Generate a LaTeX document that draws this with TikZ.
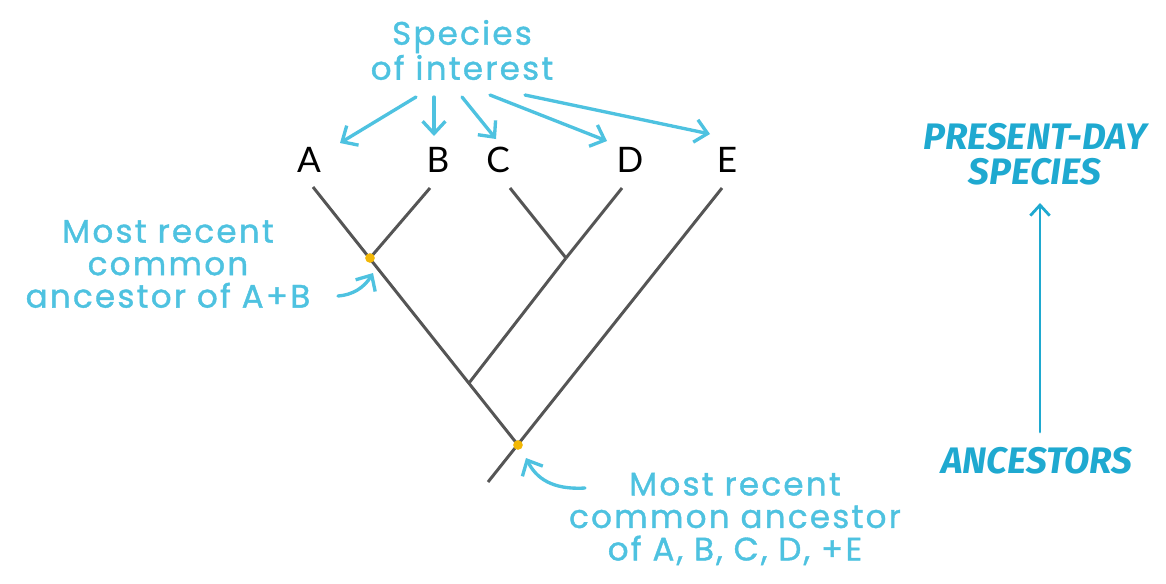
\documentclass[tikz,border=0pt]{standalone}
\usepackage{fontspec}
\setmainfont{Lato}
\newfontfamily\handfont[LetterSpace=7,FakeBold=1.2]{Poppins}
\newfontfamily\capsfont{Fira Sans}
\usetikzlibrary{arrows.meta}
\definecolor{hand}{HTML}{4EC2E0}
\definecolor{capblue}{HTML}{1FA9D0}
\definecolor{branch}{HTML}{555555}
\definecolor{dotc}{HTML}{F2B705}
\tikzset{
  branchline/.style={draw=branch,line width=1.7pt},
  handarrow/.style={draw=hand,line width=1.9pt,line cap=round,-{Straight Barb[length=7pt,width=13pt,line width=1.9pt]}},
  handtext/.style={text=hand,align=center,font=\handfont\fontsize{18.5}{18.5}\selectfont},
  capstext/.style={text=capblue,align=center,font=\capsfont\bfseries\itshape\fontsize{21}{20}\selectfont},
  leaf/.style={font=\fontsize{20}{24}\selectfont,text=black},
  dotnode/.style={circle,fill=dotc,inner sep=0pt,minimum size=5.5pt},
}
\begin{document}
\begin{tikzpicture}[x=0.02cm,y=-0.02cm]
\useasboundingbox (0,0) rectangle (1166,583);
% leaf labels
\node[leaf] (A) at (309,160) {A};
\node[leaf] (B) at (438,160) {B};
\node[leaf] (C) at (498,160) {C};
\node[leaf] (D) at (630,160) {D};
\node[leaf] (E) at (727,160) {E};
% tree
\coordinate (tA) at (313,187);
\coordinate (tB) at (430,188);
\coordinate (tC) at (510,188);
\coordinate (tD) at (622,188);
\coordinate (tE) at (722,188);
\coordinate (ab) at (370,258);
\coordinate (cd) at (566,258);
\coordinate (abcd) at (469,383);
\coordinate (root) at (518,445);
\coordinate (stem) at (488,482);
\draw[branchline] (tA) -- (root);
\draw[branchline] (tE) -- (stem);
\draw[branchline] (tB) -- (ab);
\draw[branchline] (tC) -- (cd);
\draw[branchline] (tD) -- (cd);
\draw[branchline] (cd) -- (abcd);
\node[dotnode] (dab) at (ab) {};
\node[dotnode] (droot) at (root) {};
% species of interest
\node[handtext] (soi) at (462,50) {Species\\of interest};
\coordinate (s1) at (416,97);
\coordinate (s2) at (434,97);
\coordinate (s3) at (462,97);
\coordinate (s4) at (490,95);
\coordinate (s5) at (525,95);
\coordinate (eA) at (340,143);
\coordinate (eB) at (434,136);
\coordinate (eC) at (496,139);
\coordinate (eD) at (607,141);
\coordinate (eE) at (710,134);
\draw[handarrow] (s1) -- (eA);
\draw[handarrow] (s2) -- (eB);
\draw[handarrow] (s3) -- (eC);
\draw[handarrow] (s4) -- (eD);
\draw[handarrow] (s5) -- (eE);
% MRCA A+B
\node[handtext] (mab) at (168,264) {Most recent\\common\\ancestor of A+B};
\coordinate (mabs) at (338,296);
\coordinate (mabe) at (373,273);
\draw[handarrow] (mabs) .. controls (352,295) and (364,288) .. (mabe);
% MRCA all
\node[handtext] (mall) at (735,519) {Most recent\\common ancestor\\of A, B, C, D, +E};
\coordinate (malls) at (585,488);
\coordinate (malle) at (526,458);
\draw[handarrow] (malls) .. controls (552,490) and (536,478) .. (malle);
% time axis
\node[capstext] (present) at (1035,154) {PRESENT-DAY\\SPECIES};
\node[capstext] (anc) at (1037,461) {ANCESTORS};
\draw[draw=capblue,line width=1.6pt,line cap=round,-{Straight Barb[length=6pt,width=11pt,line width=1.6pt]}] (1040,432) -- (1040,203);
\end{tikzpicture}
\end{document}
